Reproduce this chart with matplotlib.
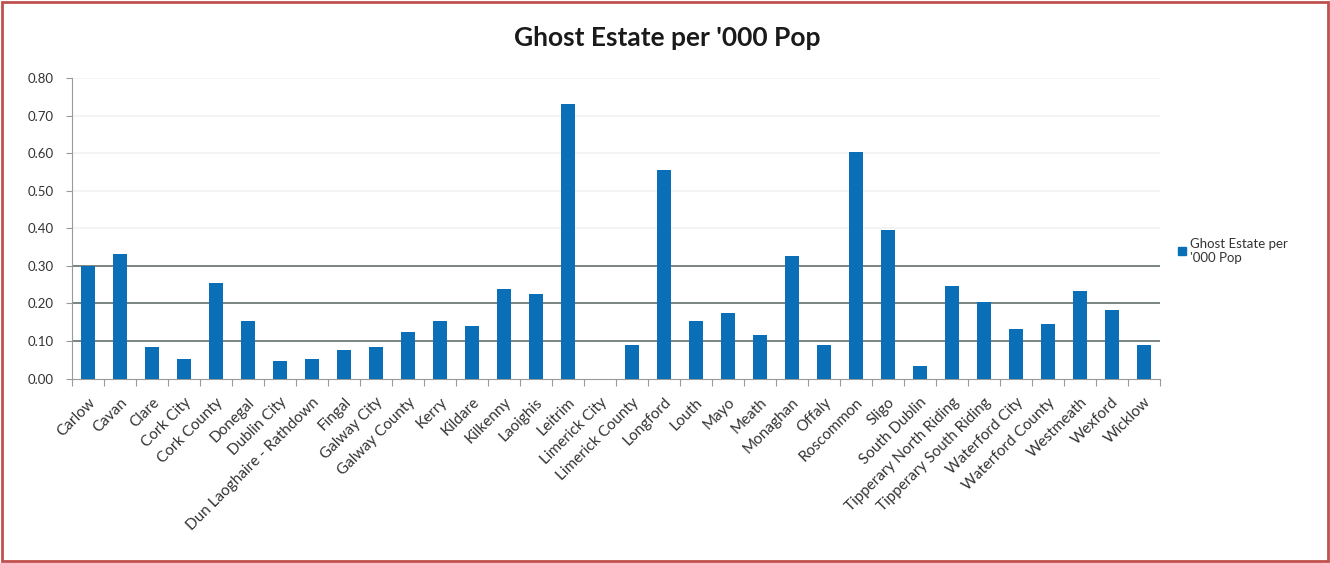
#!/usr/bin/env python3

# Ghost estates per '000 population, by county / city council
import matplotlib as mpl
mpl.use('Agg')
import matplotlib.pyplot as plt
from matplotlib.ticker import FixedLocator
import matplotlib.patches as mpatches
import numpy as np

areas = [
    "Carlow", "Cavan", "Clare", "Cork City", "Cork County", "Donegal",
    "Dublin City", "Dun Laoghaire - Rathdown", "Fingal", "Galway City",
    "Galway County", "Kerry", "Kildare", "Kilkenny", "Laoighis", "Leitrim",
    "Limerick City", "Limerick County", "Longford", "Louth", "Mayo", "Meath",
    "Monaghan", "Offaly", "Roscommon", "Sligo", "South Dublin",
    "Tipperary North Riding", "Tipperary South Riding", "Waterford City",
    "Waterford County", "Westmeath", "Wexford", "Wicklow",
]

ghost_per_1000 = [
    0.300, 0.332, 0.083, 0.053, 0.253, 0.153,
    0.046, 0.053, 0.075, 0.083,
    0.125, 0.153, 0.139, 0.239, 0.225, 0.732,
    0.000, 0.089, 0.554, 0.153, 0.175, 0.117,
    0.325, 0.089, 0.604, 0.396, 0.032,
    0.246, 0.203, 0.132,
    0.146, 0.232, 0.182, 0.089,
]

series_name = "Ghost Estate per '000 Pop"
yticks = [0.0, 0.1, 0.2, 0.3, 0.4, 0.5, 0.6, 0.7, 0.8]

plt.rcParams['font.family'] = ['Lato', 'DejaVu Sans']

bar_color = '#0a6fb7'
grid_dark = '#6f7c79'
grid_faint = '#f3f3f3'
axis_color = '#9a9a9a'
text_color = '#333333'

fig = plt.figure(figsize=(13.3, 5.63), dpi=100)
fig.patch.set_facecolor('white')

# frame round the whole picture
fig.patches.append(mpatches.Rectangle(
        (0.0015, 0.003), 0.997, 0.993
        ,transform=fig.transFigure
        ,fill=False
        ,edgecolor='#c0504d'
        ,linewidth=2.0))

ax = fig.add_axes([0.0541, 0.3277, 0.8178, 0.5338])

x = np.arange(len(areas))
ax.bar(x, ghost_per_1000, width=0.44, color=bar_color, zorder=3)

ax.set_xlim(-0.5, len(areas) - 0.5)
ax.set_ylim(0.0, 0.8)

# gridlines: the upper ones are nearly washed out in the original
for yv in yticks[1:]:
    col = grid_dark if yv <= 0.3 + 1e-9 else grid_faint
    ax.axhline(yv, color=col, linewidth=1.3, zorder=1)

ax.yaxis.set_major_locator(FixedLocator(yticks))
ax.set_yticklabels(["%.2f" % v for v in yticks], fontsize=9.5, color=text_color)
ax.tick_params(axis='y', length=4, width=0.8, color=axis_color, pad=9)

ax.set_xticks(x)
ax.set_xticklabels(areas, rotation=45, ha='right', rotation_mode='anchor',
                   fontsize=11, color=text_color)
ax.tick_params(axis='x', which='major', length=0, pad=12)
ax.xaxis.set_minor_locator(FixedLocator(np.arange(-0.5, len(areas), 1.0)))
ax.tick_params(axis='x', which='minor', length=5, width=0.8, color=axis_color)

ax.spines['right'].set_visible(False)
ax.spines['top'].set_visible(False)
ax.spines['left'].set_color(axis_color)
ax.spines['bottom'].set_color(axis_color)

fig.text(0.502, 0.932, series_name, ha='center', va='center',
         fontsize=19, fontweight='bold', color='#1a1a1a')

handle = mpatches.Patch(color=bar_color)
fig.legend([handle], ["Ghost Estate per\n'000 Pop"]
        ,loc='center left'
        ,bbox_to_anchor=(0.877, 0.555)
        ,frameon=False
        ,fontsize=9.5
        ,handlelength=0.6
        ,handleheight=0.6
        ,handletextpad=0.3
        ,labelcolor=text_color)

plt.savefig('out.png', dpi=100)
plt.close('all')
